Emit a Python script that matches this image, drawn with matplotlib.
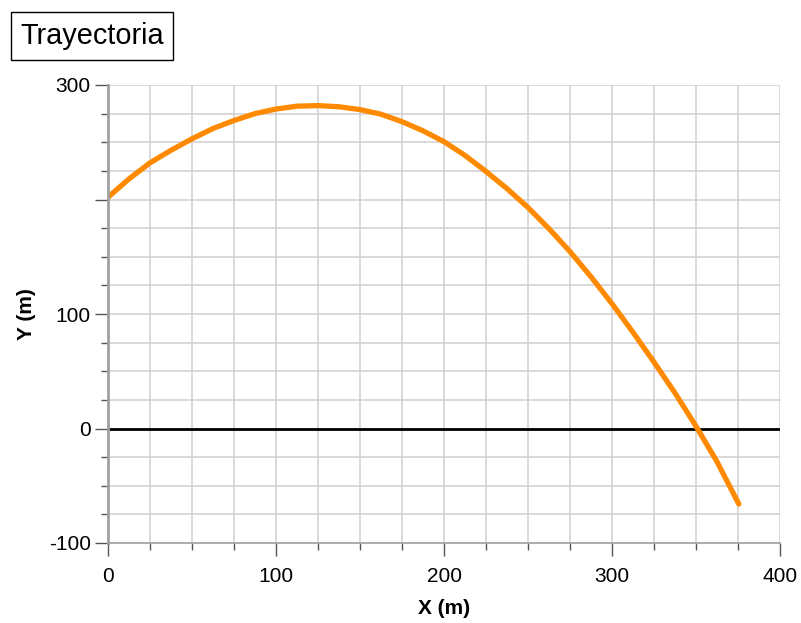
import matplotlib.pyplot as plt
import numpy as np
from matplotlib.ticker import MultipleLocator

plt.rcParams['font.family'] = ['Liberation Sans', 'DejaVu Sans']

# trajectory
x_m = [0, 12.5, 25, 37.5, 50, 62.5, 75, 87.5, 100, 112.5, 125, 137.5, 150,
       162.5, 175, 187.5, 200, 212.5, 225, 237.5, 250, 262.5, 275, 287.5,
       300, 312.5, 325, 337.5, 350, 362.5, 375.5]
y_m = [202, 218, 232, 243, 253, 262, 269, 275, 279, 281.5, 282, 281, 278.5,
       274.5, 268, 260, 250.5, 238.5, 224.5, 209.5, 193, 174.5, 154.5, 132.5,
       109, 84, 58, 31, 2, -29, -66]

y_ticks = [-100, 0, 100, 200, 300]
y_labels = ['-100', '0', '100', '', '300']
x_ticks = [0, 100, 200, 300, 400]

fig = plt.figure(figsize=(8.01, 6.23), dpi=100)
ax = fig.add_axes([108 / 801, 80 / 623, 672 / 801, 458 / 623])

ax.set_xlim(0, 400)
ax.set_ylim(-100, 300)

ax.xaxis.set_minor_locator(MultipleLocator(25))
ax.yaxis.set_minor_locator(MultipleLocator(25))
ax.set_xticks(x_ticks)
ax.set_yticks(y_ticks)
ax.set_yticklabels(y_labels)
ax.grid(True, which='both', color='#cfcfcf', linewidth=1.1)
ax.set_axisbelow(True)

for s in ['top', 'right']:
    ax.spines[s].set_visible(False)
ax.spines['left'].set_color('#a0a0a0')
ax.spines['left'].set_linewidth(2)
ax.spines['bottom'].set_color('#a0a0a0')
ax.spines['bottom'].set_linewidth(1.2)

ax.tick_params(which='major', length=9.5, width=1, color='#555555', labelsize=15, pad=3)
ax.tick_params(which='minor', length=5, width=1, color='#555555')
ax.tick_params(axis='x', which='major', pad=8)

ax.axhline(0, color='black', linewidth=2)
ax.plot(x_m, y_m, color='#ff8a00', linewidth=3.8, solid_capstyle='round', solid_joinstyle='round')

ax.set_xlabel('X (m)', fontsize=15, fontweight='bold', va='center')
ax.set_ylabel('Y (m)', fontsize=15, fontweight='bold', va='center')
ax.xaxis.set_label_coords(0.5, -0.142)
ax.yaxis.set_label_coords(-0.122, 0.5)

fig.text(92 / 801, 1 - 36 / 623, 'Trayectoria', fontsize=20.8, va='center', ha='center',
         bbox=dict(boxstyle='square,pad=0.33', facecolor='white', edgecolor='black', linewidth=1))

fig.savefig('out.png', dpi=100)
